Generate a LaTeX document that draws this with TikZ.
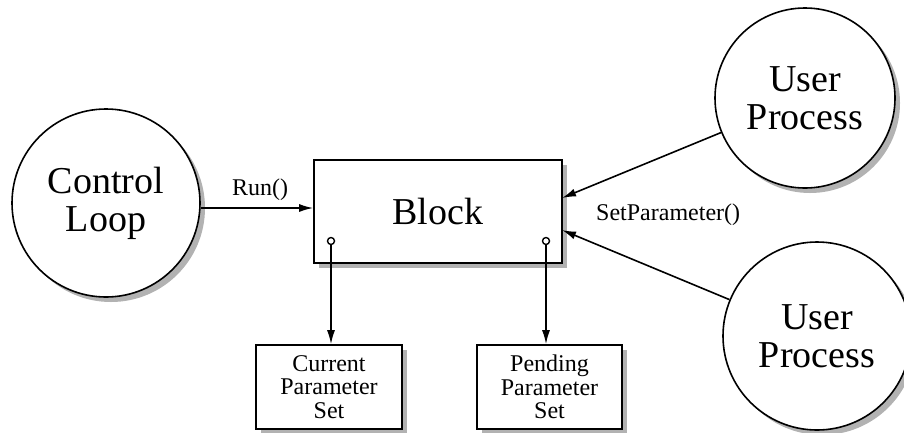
\documentclass[tikz,border=0pt]{standalone}
\usepackage{fontspec}
\setmainfont{Liberation Serif}
\usetikzlibrary{arrows.meta,shadows}
\begin{document}
\begin{tikzpicture}[x=1pt,y=-1pt,
  shad/.style={drop shadow={shadow xshift=5pt,shadow yshift=-5pt,fill=gray!60,opacity=1}},
  proc/.style={circle,draw,line width=1.6pt,fill=white,shad,inner sep=0pt,align=center,font=\fontsize{38}{38}\selectfont},
  blockbox/.style={rectangle,draw,line width=1.6pt,fill=white,shad,inner sep=0pt,align=center},
  arr/.style={line width=1.6pt,-{Latex[length=14pt,width=8pt]}},
  lbl/.style={font=\fontsize{24}{24}\selectfont,inner sep=0pt},
  port/.style={circle,draw,line width=1.4pt,fill=white,inner sep=0pt,minimum size=7pt}]
\useasboundingbox (0,0) rectangle (904,432);
\node[proc,minimum size=188pt] (ctrl) at (106,203) {Control\\Loop};
\node[proc,minimum size=180pt] (up1) at (805,98) {User\\Process};
\node[proc,minimum size=188pt] (up2) at (817,336) {User\\Process};
\node[blockbox,minimum width=248pt,minimum height=103pt,font=\fontsize{38}{38}\selectfont] (block) at (438,211.5) {Block};
\node[blockbox,minimum width=146pt,minimum height=84pt,font=\fontsize{24}{23.5}\selectfont] (cur) at (329,387) {Current\\Parameter\\Set};
\node[blockbox,minimum width=145pt,minimum height=84pt,font=\fontsize{24}{23.5}\selectfont] (pend) at (549.5,387) {Pending\\Parameter\\Set};
\coordinate (b1) at (562,198);
\coordinate (b2) at (562,230);
\draw[arr] (ctrl.east |- 0,208) -- (block.west |- 0,208);
\node[lbl] (run) at (260,190) {Run()};
\draw[arr] (up1) -- (b1);
\draw[arr] (up2) -- (b2);
\node[lbl,anchor=west] (setp) at (596,215) {SetParameter()};
\coordinate (p1) at (331,241);
\coordinate (p2) at (546,241);
\draw[arr] (p1) -- (p1 |- cur.north);
\draw[arr] (p2) -- (p2 |- pend.north);
\node[port] (pc1) at (p1) {};
\node[port] (pc2) at (p2) {};
\end{tikzpicture}
\end{document}
